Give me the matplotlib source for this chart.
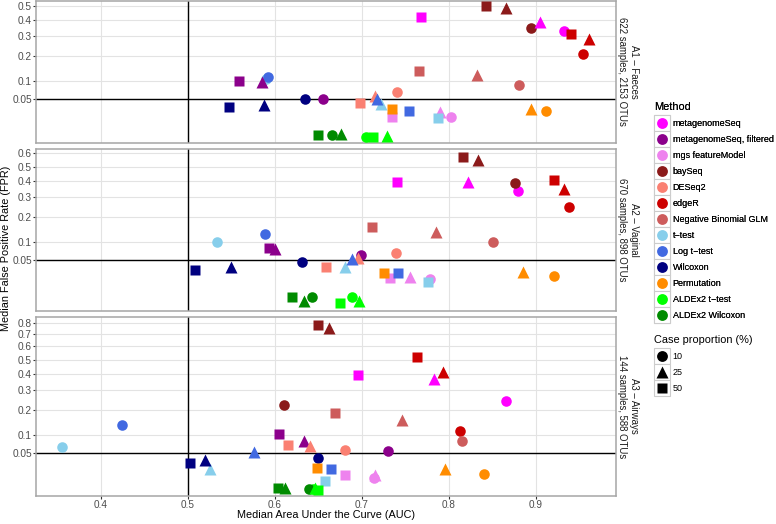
import numpy as np
import matplotlib
matplotlib.use("Agg")
import matplotlib.pyplot as plt
from matplotlib.lines import Line2D
from matplotlib.patches import Rectangle
from matplotlib.legend_handler import HandlerBase

plt.rcParams['font.family'] = ['Liberation Sans', 'DejaVu Sans']

# ---------------- data ----------------
methods = ["metagenomeSeq", "metagenomeSeq, filtered", "mgs featureModel", "baySeq",
           "DESeq2", "edgeR", "Negative Binomial GLM", "t\u2212test", "Log t\u2212test",
           "Wilcoxon", "Permutation", "ALDEx2 t\u2212test", "ALDEx2 Wilcoxon"]
method_colors = ["#FF00FF", "#8B008B", "#EE82EE", "#8B1A1A", "#FA8072", "#CD0000",
                 "#CD5C5C", "#87CEEB", "#4169E1", "#000080", "#FF8C00", "#00FF00", "#008B00"]
case_props = ["10", "25", "50"]

panel_labels = ["A1 \u2013 Faeces\n622 samples, 2153 OTUs",
                "A2 \u2013 Vaginal\n670 samples, 898 OTUs",
                "A3 \u2013 Airways\n144 samples, 588 OTUs"]

# rows: methods; columns: case proportion 10 / 25 / 50 %
faeces_auc = [
    [0.932, 0.905, 0.768], [0.655, 0.585, 0.559], [0.802, 0.790, 0.734],
    [0.894, 0.865, 0.842], [0.740, 0.715, 0.698], [0.954, 0.961, 0.940],
    [0.880, 0.832, 0.766], [0.590, 0.722, 0.787], [0.592, 0.717, 0.754],
    [0.635, 0.587, 0.547], [0.911, 0.894, 0.735], [0.705, 0.729, 0.713],
    [0.666, 0.676, 0.649]]
faeces_fpr = [
    [0.334, 0.390, 0.423], [0.049, 0.098, 0.101], [0.017, 0.025, 0.017],
    [0.348, 0.481, 0.500], [0.068, 0.057, 0.041], [0.209, 0.286, 0.314],
    [0.087, 0.121, 0.136], [0.107, 0.039, 0.016], [0.114, 0.049, 0.026],
    [0.050, 0.037, 0.033], [0.026, 0.029, 0.029], [0.0008, 0.0011, 0.0008],
    [0.0014, 0.0018, 0.0013]]

vaginal_auc = [
    [0.879, 0.822, 0.740], [0.699, 0.600, 0.593], [0.778, 0.755, 0.732],
    [0.876, 0.833, 0.816], [0.739, 0.695, 0.659], [0.938, 0.932, 0.921],
    [0.851, 0.785, 0.712], [0.533, 0.680, 0.776], [0.588, 0.689, 0.741],
    [0.631, 0.549, 0.508], [0.921, 0.885, 0.725], [0.689, 0.697, 0.675],
    [0.643, 0.633, 0.620]]
vaginal_fpr = [
    [0.338, 0.396, 0.396], [0.062, 0.078, 0.081], [0.015, 0.018, 0.017],
    [0.386, 0.550, 0.576], [0.068, 0.054, 0.035], [0.247, 0.348, 0.407],
    [0.099, 0.137, 0.157], [0.099, 0.034, 0.012], [0.127, 0.052, 0.025],
    [0.045, 0.035, 0.030], [0.020, 0.026, 0.025], [0.0011, 0.0001, 0.0],
    [0.0009, 0.0001, 0.0009]]

airways_auc = [
    [0.866, 0.783, 0.695], [0.730, 0.633, 0.605], [0.714, 0.715, 0.681],
    [0.610, 0.662, 0.649], [0.681, 0.640, 0.615], [0.813, 0.793, 0.763],
    [0.815, 0.746, 0.669], [0.355, 0.525, 0.658], [0.424, 0.576, 0.664],
    [0.650, 0.520, 0.502], [0.840, 0.795, 0.648], [0.644, 0.646, 0.649],
    [0.639, 0.612, 0.603]]
airways_fpr = [
    [0.240, 0.367, 0.394], [0.054, 0.082, 0.104], [0.009, 0.012, 0.012],
    [0.223, 0.756, 0.786], [0.056, 0.068, 0.070], [0.115, 0.416, 0.522],
    [0.080, 0.156, 0.187], [0.064, 0.019, 0.006], [0.135, 0.053, 0.019],
    [0.039, 0.034, 0.030], [0.013, 0.019, 0.021], [0.0014, 0.0019, 0.0010],
    [0.0014, 0.0017, 0.0017]]

panel_auc = [faeces_auc, vaginal_auc, airways_auc]
panel_fpr = [faeces_fpr, vaginal_fpr, airways_fpr]
panel_yticks = [[0.05, 0.1, 0.2, 0.3, 0.4, 0.5],
                [0.05, 0.1, 0.2, 0.3, 0.4, 0.5, 0.6],
                [0.05, 0.1, 0.2, 0.3, 0.4, 0.5, 0.6, 0.7, 0.8]]
xticks = [0.4, 0.5, 0.6, 0.7, 0.8, 0.9]

# ---------------- style ----------------
shape_markers = ['o', '^', 's']
shape_sizes = [7.6, 8.6, 7.2]
sqrt_limits = [(-0.003, 0.731), (-0.041, 0.799), (0.002, 0.927)]
W, H = 776, 524


def fwd(y):
    y = np.asarray(y, dtype=float)
    return np.sign(y) * np.sqrt(np.abs(y))


def inv(y):
    y = np.asarray(y, dtype=float)
    return np.sign(y) * y ** 2


fig = plt.figure(figsize=(W / 100, H / 100), dpi=100)
heights = [b - a for a, b in sqrt_limits]
gs = fig.add_gridspec(3, 1, left=36 / W, right=616 / W, top=1 - 1 / H,
                      bottom=1 - 495.7 / H, height_ratios=heights, hspace=0.0373)

tick_col = '#4D4D4D'
for p in range(3):
    ax = fig.add_subplot(gs[p])
    ax.set_yscale('function', functions=(fwd, inv))
    ax.set_xlim(0.3253, 0.992)
    lo, hi = sqrt_limits[p]
    ax.set_ylim(float(inv(lo)), float(inv(hi)))
    ax.set_yticks(panel_yticks[p])
    ax.set_yticklabels([f"{v:g}" for v in panel_yticks[p]])
    ax.set_yticks([], minor=True)
    ax.set_xticks(xticks)
    ax.grid(True, color='#E3E3E3', lw=0.8, zorder=0)
    ax.set_axisbelow(True)
    for s in ax.spines.values():
        s.set_color('#A6A6A6')
        s.set_linewidth(1.1)
    ax.axvline(0.5, color='black', lw=1.0, zorder=1)
    ax.axhline(0.05, color='black', lw=1.0, zorder=1)
    ax.tick_params(axis='y', length=2.2, width=0.8, color='#333333', labelsize=7.3,
                   labelcolor=tick_col, pad=0.6)
    if p < 2:
        ax.tick_params(axis='x', length=0, labelbottom=False)
    else:
        ax.set_xticklabels([f"{v:g}" for v in xticks])
        ax.tick_params(axis='x', length=2.2, width=0.8, color='#333333', labelsize=7.2,
                       labelcolor=tick_col, pad=0.6)
    auc = panel_auc[p]
    fpr = panel_fpr[p]
    for k in range(3):
        for m in range(len(methods)):
            ax.plot([auc[m][k]], [fpr[m][k]], ls='none', marker=shape_markers[k],
                    ms=shape_sizes[k], color=method_colors[m], mec='none', zorder=3 + k)
    ax.text(1.0207, 0.5, panel_labels[p], rotation=270, ha='center', va='center',
            multialignment='center', transform=ax.transAxes, fontsize=6.9,
            color='#1A1A1A', linespacing=1.15)

fig.text(6.5 / W, 1 - 248 / H, "Median False Positive Rate (FPR)", rotation=90,
         ha='center', va='center', fontsize=7.8)
fig.text(326 / W, 1 - 515.5 / H, "Median Area Under the Curve (AUC)",
         ha='center', va='center', fontsize=7.8)


class BoxHandler(HandlerBase):
    def create_artists(self, legend, orig_handle, xdescent, ydescent, width, height,
                       fontsize, trans):
        rect = Rectangle((-xdescent, -ydescent), width, height, facecolor='white',
                         edgecolor='#CCCCCC', lw=0.8, transform=trans)
        line = Line2D([width / 2 - xdescent], [height / 2 - ydescent],
                      marker=orig_handle.get_marker(), ms=orig_handle.get_markersize(),
                      color=orig_handle.get_color(), mec='none', ls='none')
        line.set_transform(trans)
        return [rect, line]


leg_fs = 6.5
box_pt = 16 * 0.72
hl = box_pt / leg_fs
hh = (box_pt / leg_fs - 0.245) / 0.65

m_handles = [Line2D([], [], marker='o', ms=7.8, color=c, ls='none') for c in method_colors]
leg1 = fig.legend(m_handles, methods, loc='upper left',
                  bbox_to_anchor=(654 / W, 1 - 102 / H), frameon=False, fontsize=leg_fs,
                  title="Method", title_fontsize=7.9, alignment='left',
                  handler_map={Line2D: BoxHandler()}, handlelength=hl,
                  handleheight=hh, labelspacing=0, handletextpad=0.3,
                  borderpad=0, borderaxespad=0)
leg1._legend_box.sep = 2
fig.add_artist(leg1)

s_handles = [Line2D([], [], marker=mk, ms=ms, color='black', ls='none')
             for mk, ms in zip(shape_markers, [7.8, 8.8, 7.4])]
leg2 = fig.legend(s_handles, case_props, loc='upper left',
                  bbox_to_anchor=(654 / W, 1 - 335 / H), frameon=False, fontsize=leg_fs,
                  title="Case proportion (%)", title_fontsize=7.9, alignment='left',
                  handler_map={Line2D: BoxHandler()}, handlelength=hl,
                  handleheight=hh, labelspacing=0, handletextpad=0.3,
                  borderpad=0, borderaxespad=0)
leg2._legend_box.sep = 2

fig.savefig("out.png", dpi=100)
